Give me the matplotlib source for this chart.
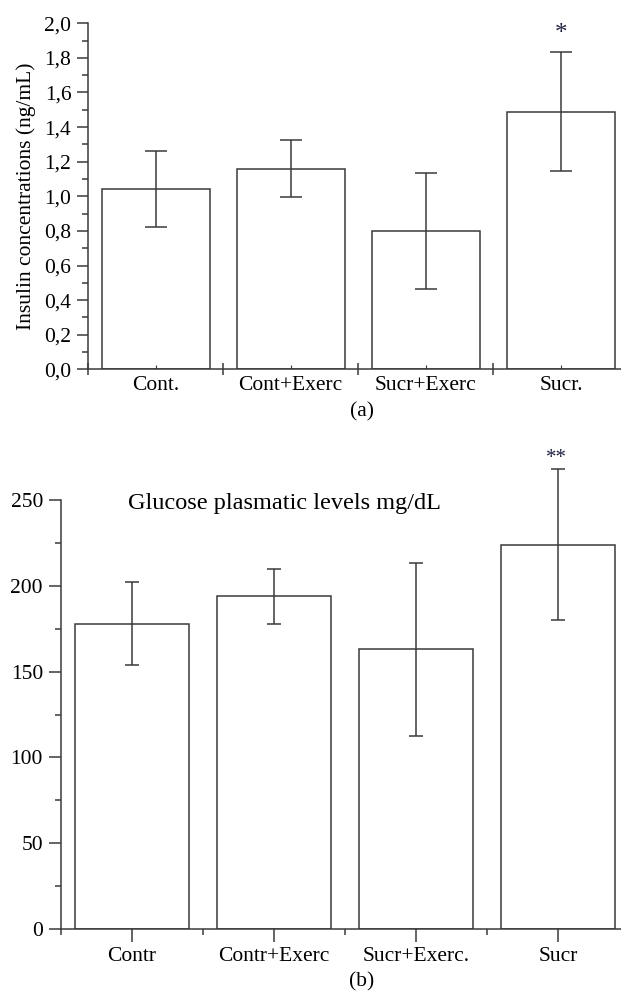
import numpy as np
import matplotlib.pyplot as plt
from matplotlib.ticker import MultipleLocator, FixedLocator, FuncFormatter

plt.rcParams['font.family'] = ['Liberation Serif', 'DejaVu Serif']

# (a) insulin
ins_labels = ["Cont.", "Cont+Exerc", "Sucr+Exerc", "Sucr."]
ins_mean = [1.04, 1.16, 0.80, 1.49]
ins_err = [0.22, 0.165, 0.335, 0.345]

# (b) glucose
glu_labels = ["Contr", "Contr+Exerc", "Sucr+Exerc.", "Sucr"]
glu_mean = [178, 194, 163, 224]
glu_err = [24, 16, 50.5, 44]

lc = "#3a3a3a"
lw = 1.1
fs = 15.5

fig = plt.figure(figsize=(6.21, 9.92), dpi=100)

# ---- top panel
ax1 = fig.add_axes([88/621, 1-369.3/992, 533/621, (369.3-23.3)/992])
x = np.arange(len(ins_labels))
ax1.bar(x, ins_mean, width=0.8, color="white", edgecolor=lc, linewidth=lw)
ax1.errorbar(x, ins_mean, yerr=ins_err, fmt="none", ecolor=lc, elinewidth=lw,
             capsize=8, capthick=lw, clip_on=False)
ax1.text(3, 1.94, "*", ha="center", va="center", fontsize=18, color="#222244")
ax1.set_xlim(-0.5, 3.444)
ax1.set_ylim(0, 2.0)
for s in ["top", "right"]:
    ax1.spines[s].set_visible(False)
for s in ["left", "bottom"]:
    ax1.spines[s].set_color(lc)
    ax1.spines[s].set_linewidth(lw)
ax1.yaxis.set_major_locator(MultipleLocator(0.2))
ax1.yaxis.set_minor_locator(MultipleLocator(0.1))
ax1.yaxis.set_major_formatter(FuncFormatter(lambda v, p: f"{v:.1f}".replace(".", ",")))
ax1.tick_params(axis="y", which="major", length=8, width=lw, color=lc, labelsize=fs, pad=4)
ax1.tick_params(axis="y", which="minor", length=4, width=lw, color=lc)
ax1.set_xticks(x)
ax1.set_xticklabels(ins_labels)
ax1.xaxis.set_minor_locator(FixedLocator([-0.5, 0.5, 1.5, 2.5]))
ax1.tick_params(axis="x", which="major", direction="in", length=3, width=0.8, color=lc,
                labelsize=fs, pad=5)
ax1.tick_params(axis="x", which="minor", direction="inout", length=8, width=lw, color=lc)
ax1.set_ylabel("Insulin concentrations (ng/mL)", fontsize=fs, labelpad=6)
fig.text(362/621, 1-412/992, "(a)", ha="center", va="center", fontsize=fs)

# ---- bottom panel
ax2 = fig.add_axes([61/621, 1-929/992, 560/621, (929-500)/992])
x = np.arange(len(glu_labels))
ax2.bar(x, glu_mean, width=0.8, color="white", edgecolor=lc, linewidth=lw)
ax2.errorbar(x, glu_mean, yerr=glu_err, fmt="none", ecolor=lc, elinewidth=lw,
             capsize=5, capthick=lw, clip_on=False)
ax2.text(2.99, 274, "**", ha="center", va="center", fontsize=15, color="#222244", clip_on=False)
ax2.text(-0.028, 248, "Glucose plasmatic levels mg/dL", ha="left", va="center", fontsize=17.5)
ax2.set_xlim(-0.5, 3.444)
ax2.set_ylim(0, 250)
for s in ["top", "right"]:
    ax2.spines[s].set_visible(False)
for s in ["left", "bottom"]:
    ax2.spines[s].set_color(lc)
    ax2.spines[s].set_linewidth(lw)
ax2.yaxis.set_major_locator(MultipleLocator(50))
ax2.yaxis.set_minor_locator(MultipleLocator(25))
ax2.tick_params(axis="y", which="major", length=9, width=lw, color=lc, labelsize=fs, pad=4)
ax2.tick_params(axis="y", which="minor", length=4, width=lw, color=lc)
ax2.set_xticks(x)
ax2.set_xticklabels(glu_labels)
ax2.xaxis.set_minor_locator(FixedLocator([-0.5, 0.5, 1.5, 2.5]))
ax2.tick_params(axis="x", which="major", length=9, width=lw, color=lc, labelsize=fs, pad=4)
ax2.tick_params(axis="x", which="minor", length=4, width=lw, color=lc)
fig.text(362/621, 1-982/992, "(b)", ha="center", va="center", fontsize=fs)

fig.savefig("out.png", dpi=100)
